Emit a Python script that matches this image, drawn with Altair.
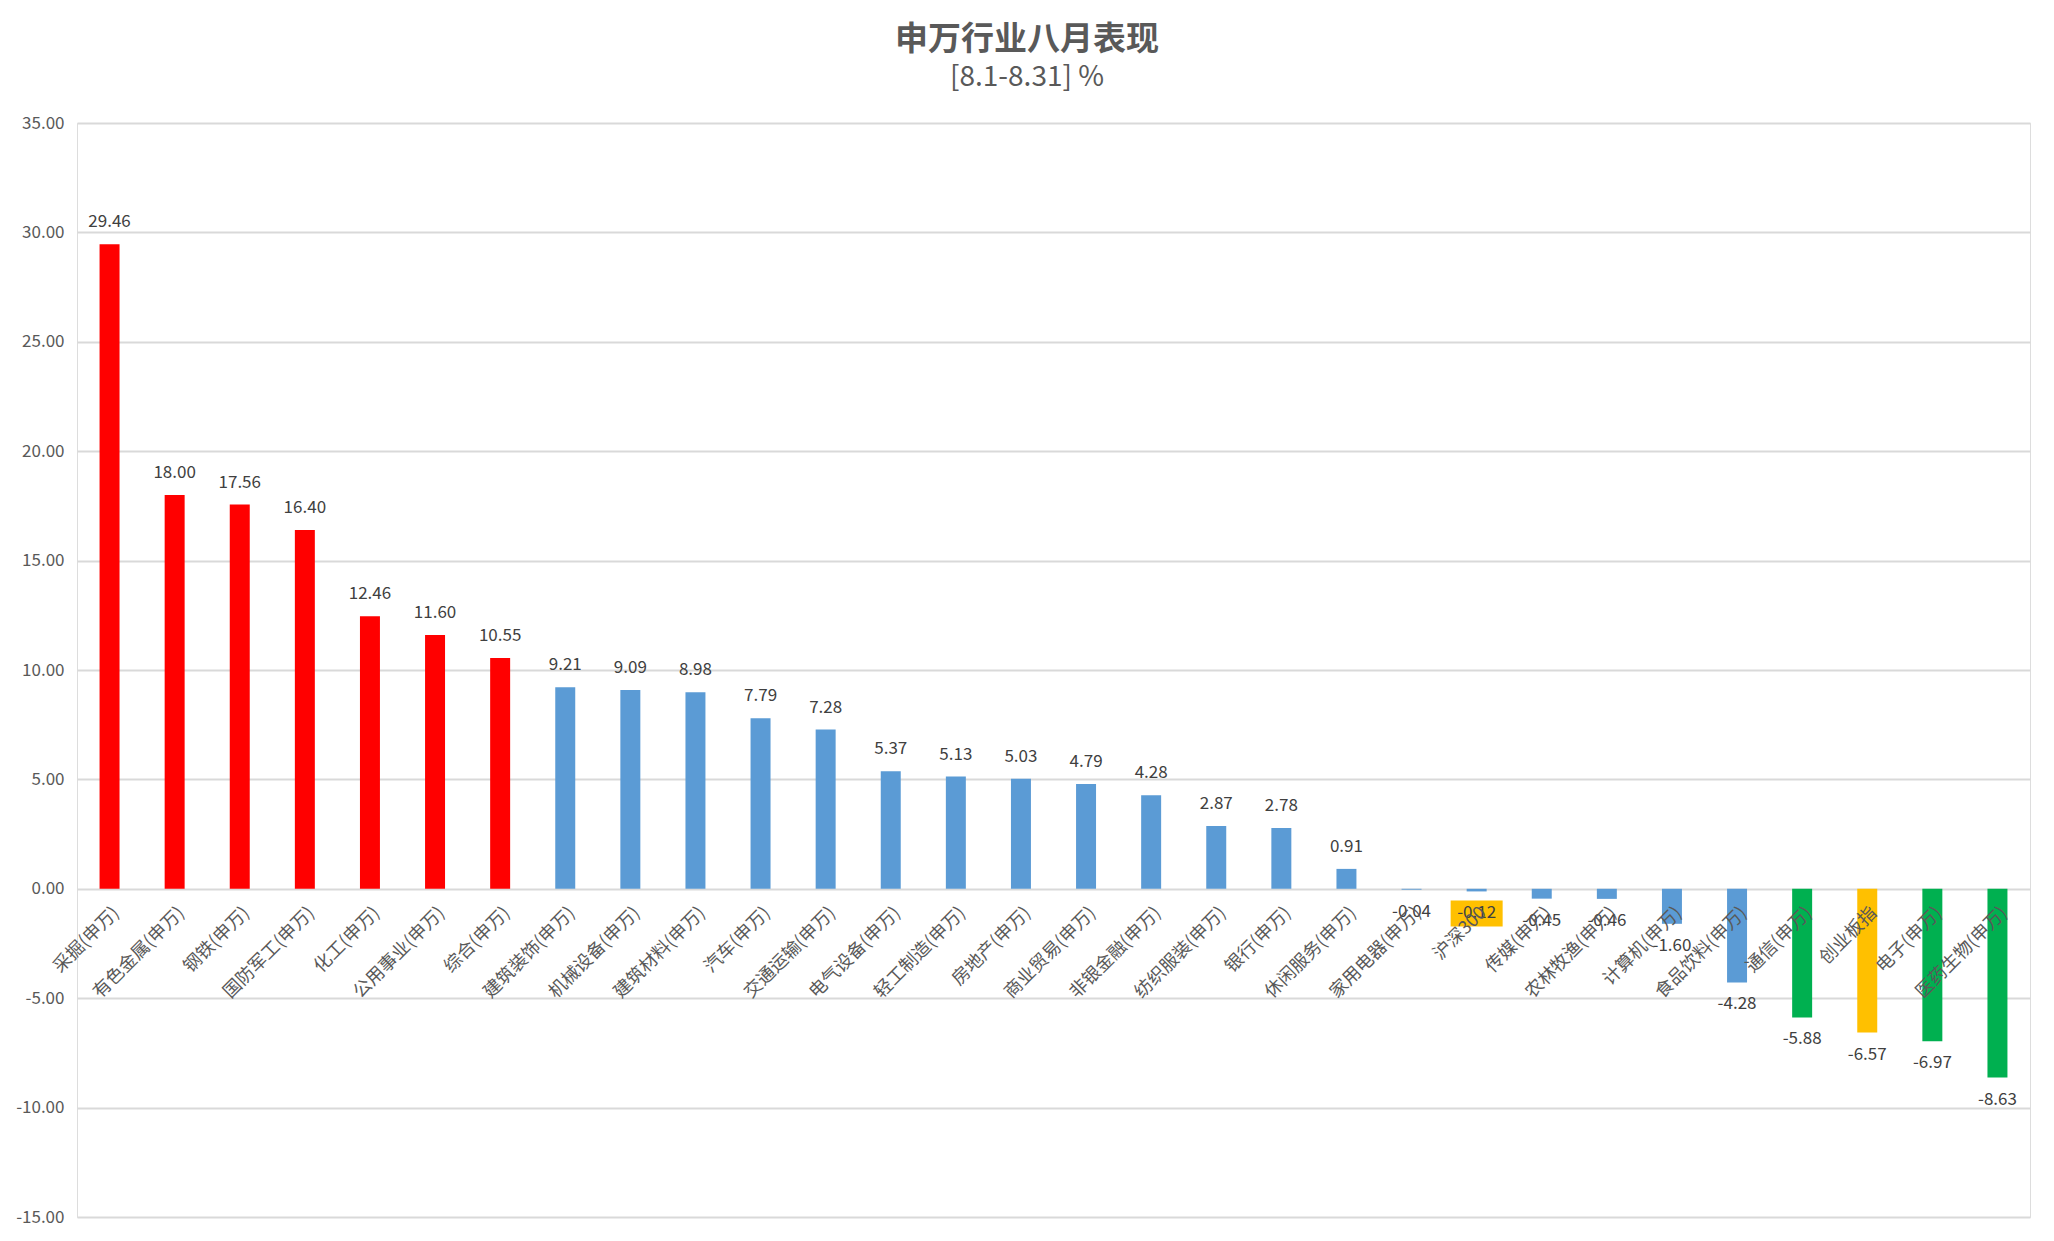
import altair as alt
import pandas as pd

categories = [
    "采掘(申万)", "有色金属(申万)", "钢铁(申万)", "国防军工(申万)", "化工(申万)",
    "公用事业(申万)", "综合(申万)", "建筑装饰(申万)", "机械设备(申万)", "建筑材料(申万)",
    "汽车(申万)", "交通运输(申万)", "电气设备(申万)", "轻工制造(申万)", "房地产(申万)",
    "商业贸易(申万)", "非银金融(申万)", "纺织服装(申万)", "银行(申万)", "休闲服务(申万)",
    "家用电器(申万)", "沪深300", "传媒(申万)", "农林牧渔(申万)", "计算机(申万)",
    "食品饮料(申万)", "通信(申万)", "创业板指", "电子(申万)", "医药生物(申万)",
]
values = [
    29.46, 18.00, 17.56, 16.40, 12.46,
    11.60, 10.55, 9.21, 9.09, 8.98,
    7.79, 7.28, 5.37, 5.13, 5.03,
    4.79, 4.28, 2.87, 2.78, 0.91,
    -0.04, -0.12, -0.45, -0.46, -1.60,
    -4.28, -5.88, -6.57, -6.97, -8.63,
]
groups = (["top"] * 7 + ["mid"] * 19 + ["bottom", "index", "bottom", "bottom"])
group_names = ["top", "mid", "bottom", "index"]
group_colors = ["#FF0000", "#5B9BD5", "#00B050", "#FFC000"]
boxed_label = ["沪深300"]
y_ticks = [-15, -10, -5, 0, 5, 10, 15, 20, 25, 30, 35]

df = pd.DataFrame({"industry": categories, "pct": values, "group": groups})

FONT = "Noto Sans CJK SC"
HYPHEN_FMT = "replace(format({v}, '.2f'), '\u2212', '-')"

x_enc = alt.X(
    "industry:N",
    sort=categories,
    scale=alt.Scale(paddingInner=0.693, paddingOuter=0.3465),
    axis=alt.Axis(
        title=None, labelAngle=315, labelAlign="right", labelBaseline="middle",
        labelPadding=21, labelOffset=7, ticks=False, domain=False,
        offset=-328, zindex=1, labelFontSize=18, labelColor="#595959",
        labelFont=FONT, labelLimit=400, labelOverlap=False, labelBound=False,
    ),
)
y_enc = alt.Y(
    "pct:Q",
    scale=alt.Scale(domain=[-15, 35], nice=False, zero=False),
    axis=alt.Axis(
        title=None, values=y_ticks, labelExpr=HYPHEN_FMT.format(v="datum.value"),
        grid=True, gridColor="#D9D9D9", gridWidth=1.8, domain=False, ticks=False,
        labelPadding=13, labelFontSize=17, labelColor="#595959", labelFont=FONT,
    ),
)

base = alt.Chart(df).transform_calculate(
    label=HYPHEN_FMT.format(v="datum.pct")
)

bars = base.mark_bar().encode(
    x=x_enc, y=y_enc,
    color=alt.Color("group:N", scale=alt.Scale(domain=group_names, range=group_colors), legend=None),
)

box = base.transform_filter(
    alt.FieldOneOfPredicate(field="industry", oneOf=boxed_label)
).mark_point(
    shape="M-1,-0.5L1,-0.5L1,0.5L-1,0.5Z", size=2704, filled=True,
    color="#FFC000", opacity=1, yOffset=22,
).encode(x=x_enc, y=y_enc)

pos_labels = base.transform_filter("datum.pct >= 0").mark_text(
    dy=-22, baseline="middle", fontSize=17, color="#404040", font=FONT,
).encode(x=x_enc, y=y_enc, text="label:N")

neg_labels = base.transform_filter("datum.pct < 0").mark_text(
    dy=22, baseline="middle", fontSize=17, color="#404040", font=FONT,
).encode(x=x_enc, y=y_enc, text="label:N")

chart = alt.layer(bars, box, pos_labels, neg_labels).properties(
    width=1953,
    height=1094,
    autosize=alt.AutoSizeParams(type="none"),
    padding={"left": 69, "top": 115, "right": 16, "bottom": 16},
    title=alt.TitleParams(
        text="申万行业八月表现", subtitle="[8.1-8.31] %", anchor="middle",
        frame="group", dx=-26.5, offset=22, fontSize=33, fontWeight="bold",
        color="#595959", font=FONT, subtitleFontSize=28, subtitleColor="#595959",
        subtitleFont=FONT, subtitlePadding=7,
    ),
).configure_view(stroke=None).configure(background="white")

chart.save("out.html", embed_options={"renderer": "svg", "actions": False})
